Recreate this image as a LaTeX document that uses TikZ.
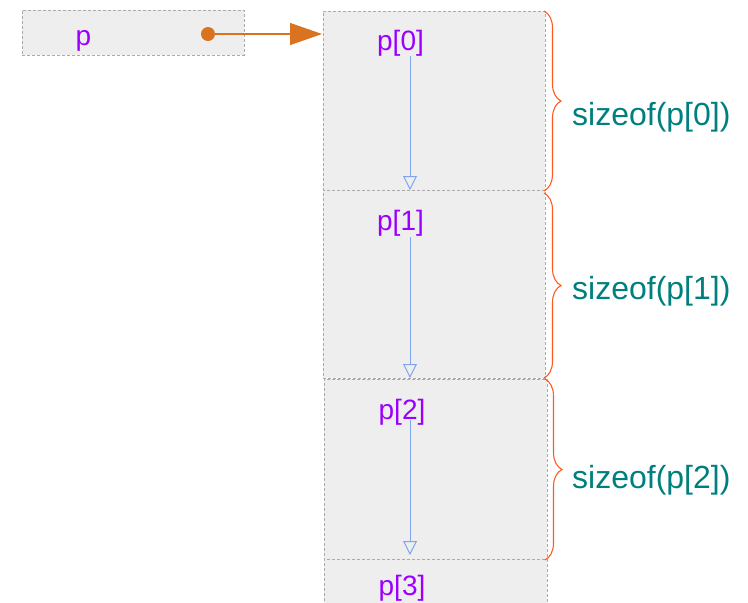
\documentclass[tikz,border=0pt]{standalone}
\usepackage{fontspec}
\setmainfont{Liberation Sans}
\usetikzlibrary{arrows.meta,decorations.pathreplacing}
\definecolor{boxfill}{HTML}{EEEEEE}
\definecolor{boxline}{HTML}{AAAAAA}
\definecolor{lblpurple}{HTML}{9B00FF}
\definecolor{lblteal}{HTML}{007F7F}
\definecolor{ptrorange}{HTML}{D9731F}
\definecolor{braceorange}{HTML}{FF5A1F}
\definecolor{stepblue}{HTML}{7FA6EC}
\tikzset{
  x=1pt, y=-1pt,
  memcell/.style={draw=boxline, fill=boxfill, dashed, dash pattern=on 3pt off 2pt, line width=0.8pt, inner sep=0pt},
  lbl/.style={text=lblpurple, font=\fontsize{28}{32}\selectfont, inner sep=0pt, anchor=base},
  sizelbl/.style={text=lblteal, font=\fontsize{32}{36}\selectfont, inner sep=0pt, anchor=base west},
  ptrdot/.style={circle, fill=ptrorange, minimum size=14pt, inner sep=0pt},
  ptrarrow/.style={draw=ptrorange, line width=1.2pt, -{Triangle[length=32pt,width=22pt]}},
  steparrow/.style={draw=stepblue, line width=1pt, -{Triangle[open,length=14pt,width=14pt,line width=1pt]}},
  sizebrace/.style={draw=braceorange, line width=1.1pt, decorate, decoration={brace, amplitude=17pt}},
}
\begin{document}
\begin{tikzpicture}
\useasboundingbox (0,0) rectangle (748,603);
\clip (0,0) rectangle (748,603);
% pointer box
\node[memcell, minimum width=222pt, minimum height=45pt] (pbox) at (133,32.5) {};
\node[lbl] (ptxt) at (83.5,45) {p};
\node[ptrdot] (pdot) at (208,34) {};
% memory cells
\node[memcell, minimum width=222pt, minimum height=179pt] (c0) at (434,100.5) {};
\node[memcell, minimum width=222pt, minimum height=188pt] (c1) at (434,284) {};
\node[memcell, minimum width=223pt, minimum height=180pt] (c2) at (435.5,469) {};
\node[memcell, minimum width=223pt, minimum height=60pt] (c3) at (435.5,589) {};
\node[lbl] (t0) at (400.5,50) {p[0]};
\node[lbl] (t1) at (400.5,230) {p[1]};
\node[lbl] (t2) at (402,419.5) {p[2]};
\node[lbl] (t3) at (402,595) {p[3]};
% pointer arrow
\coordinate (ptrend) at (322,34);
\draw[ptrarrow] (pdot.center) -- (ptrend);
% step arrows
\coordinate (e0) at (410,190);
\coordinate (e1) at (410,378);
\coordinate (e2) at (410,555);
\draw[steparrow] (410,56) -- (e0);
\draw[steparrow] (410,237) -- (e1);
\draw[steparrow] (410,420) -- (e2);
% braces
\coordinate (b0a) at (544,11);
\coordinate (b0b) at (544,191);
\coordinate (b1a) at (544,193);
\coordinate (b1b) at (544,378);
\coordinate (b2a) at (545,379);
\coordinate (b2b) at (545,560);
\draw[sizebrace] (b0a) -- (b0b);
\draw[sizebrace] (b1a) -- (b1b);
\draw[sizebrace] (b2a) -- (b2b);
\node[sizelbl] (s0) at (572,125) {sizeof(p[0])};
\node[sizelbl] (s1) at (572,299) {sizeof(p[1])};
\node[sizelbl] (s2) at (572,488) {sizeof(p[2])};
\end{tikzpicture}
\end{document}
